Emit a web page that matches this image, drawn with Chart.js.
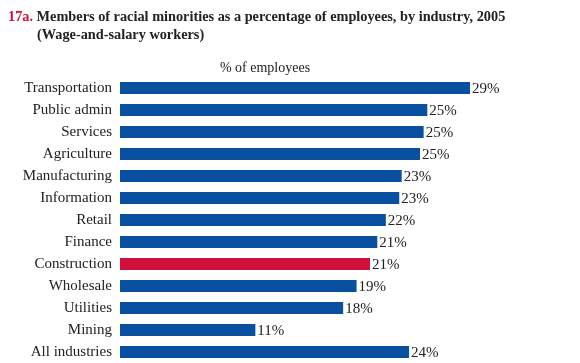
<!DOCTYPE html>
<html>
<head>
<meta charset="utf-8">
<script src="https://cdn.jsdelivr.net/npm/chart.js@4"></script>
<style>
	body { margin: 0; background: #fff; }
	#wrap { position: relative; width: 580px; height: 363px; font-family: "Liberation Serif", "Times New Roman", serif; color: #222; }
	#title { position: absolute; left: 8px; top: 7px; width: 570px; font-weight: bold; font-size: 14.3px; line-height: 18px; padding-left: 29px; text-indent: -29px; box-sizing: border-box; }
	#title .num { color: #d0103c; }
	#caption { position: absolute; left: 0; width: 530px; top: 60px; text-align: center; font-size: 14px; }
	canvas { position: absolute; left: 0; top: 0; }
</style>
</head>
<body>
<div id="wrap">
	<canvas id="chart" width="580" height="363"></canvas>
	<div id="title"><span class="num">17a.</span> Members of racial minorities as a percentage of employees, by industry, 2005<br>(Wage-and-salary workers)</div>
	<div id="caption">% of employees</div>
</div>
<script>
const industries = ["Transportation", "Public admin", "Services", "Agriculture", "Manufacturing", "Information",
	"Retail", "Finance", "Construction", "Wholesale", "Utilities", "Mining", "All industries"];
const minorityShare = [28.7, 25.2, 24.9, 24.6, 23.1, 22.9, 21.8, 21.1, 20.5, 19.4, 18.3, 11.1, 23.7];
const highlighted = "Construction";

const blue = "#0a50a0";
const red = "#d0103c";
const barColors = industries.map(name => name === highlighted ? red : blue);

// percent labels at the end of each bar
const valueLabels = {
	id: 'valueLabels',
	afterDatasetsDraw(chart) {
		const ctx = chart.ctx;
		const meta = chart.getDatasetMeta(0);
		ctx.save();
		ctx.font = '15px "Liberation Serif", serif';
		ctx.fillStyle = '#222';
		ctx.textAlign = 'left';
		ctx.textBaseline = 'middle';
		meta.data.forEach((bar, i) => {
			ctx.fillText(`${Math.round(minorityShare[i])}%`, bar.x + 2, bar.y + 1);
		});
		ctx.restore();
	}
};

new Chart(document.getElementById('chart'), {
	type: 'bar',
	data: {
		labels: industries,
		datasets: [{
			data: minorityShare,
			backgroundColor: barColors,
			categoryPercentage: 1,
			barPercentage: 0.55,
		}]
	},
	options: {
		indexAxis: 'y',
		responsive: false,
		animation: false,
		devicePixelRatio: 1,
		layout: { padding: { top: 77, right: 21, bottom: 0, left: 0 } },
		plugins: {
			legend: { display: false },
			tooltip: { enabled: false },
		},
		scales: {
			x: {
				min: 0,
				max: 36,
				display: false,
			},
			y: {
				grid: { display: false, drawTicks: false },
				border: { display: false },
				ticks: {
					color: '#222',
					padding: 8,
					font: { family: '"Liberation Serif", serif', size: 15 },
				},
				afterFit: scale => {
					scale.width = 120;
					scale.paddingTop = 0;
					scale.paddingBottom = 0;
				},
			}
		}
	},
	plugins: [valueLabels],
});
</script>
</body>
</html>
